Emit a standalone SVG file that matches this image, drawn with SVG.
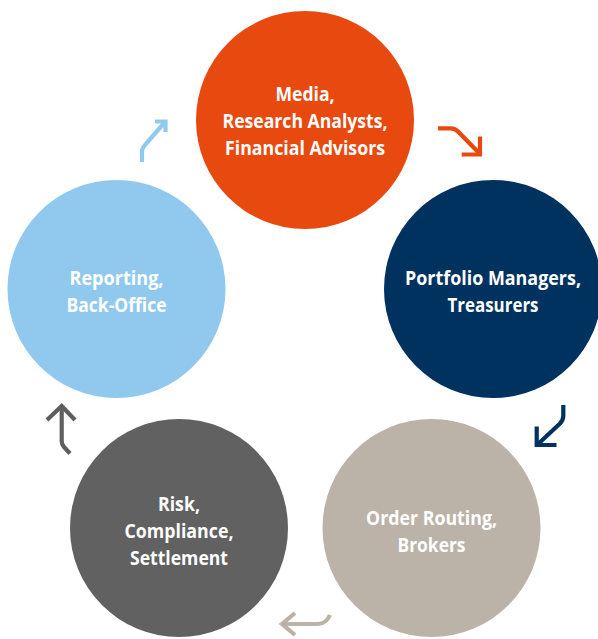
<svg xmlns="http://www.w3.org/2000/svg" width="598" height="639" viewBox="0 0 598 639">
<style>
.lbl{font-family:"Open Sans","Noto Sans","Liberation Sans",sans-serif;font-weight:700;font-size:19.5px;fill:#ffffff;text-anchor:middle}
.arr{fill:none;stroke-width:4.2;stroke-linecap:butt;stroke-linejoin:miter}
</style>
<rect width="598" height="639" fill="#ffffff"/>
<g id="node-media">
<circle cx="305" cy="120" r="109" fill="#E8490F"/>
<text class="lbl" x="305" y="100.7" textLength="59" lengthAdjust="spacingAndGlyphs">Media,</text>
<text class="lbl" x="305" y="128.3" textLength="165" lengthAdjust="spacingAndGlyphs">Research Analysts,</text>
<text class="lbl" x="305" y="155" textLength="160" lengthAdjust="spacingAndGlyphs">Financial Advisors</text>
</g>
<g id="node-portfolio">
<circle cx="493" cy="289" r="109" fill="#00325F"/>
<text class="lbl" x="493" y="285" textLength="176" lengthAdjust="spacingAndGlyphs">Portfolio Managers,</text>
<text class="lbl" x="493" y="311.7" textLength="91" lengthAdjust="spacingAndGlyphs">Treasurers</text>
</g>
<g id="node-order">
<circle cx="431.5" cy="528" r="109" fill="#BBB3A7"/>
<text class="lbl" x="431.5" y="525" textLength="131" lengthAdjust="spacingAndGlyphs">Order Routing,</text>
<text class="lbl" x="431.5" y="551.5" textLength="68" lengthAdjust="spacingAndGlyphs">Brokers</text>
</g>
<g id="node-risk">
<circle cx="179" cy="528" r="109" fill="#616161"/>
<text class="lbl" x="179" y="511" textLength="42" lengthAdjust="spacingAndGlyphs">Risk,</text>
<text class="lbl" x="179" y="538" textLength="109" lengthAdjust="spacingAndGlyphs">Compliance,</text>
<text class="lbl" x="179" y="564.5" textLength="98" lengthAdjust="spacingAndGlyphs">Settlement</text>
</g>
<g id="node-reporting">
<circle cx="116.5" cy="289" r="109" fill="#91C9EE"/>
<text class="lbl" x="116.5" y="285" textLength="94" lengthAdjust="spacingAndGlyphs">Reporting,</text>
<text class="lbl" x="116.5" y="311.7" textLength="100" lengthAdjust="spacingAndGlyphs">Back-Office</text>
</g>
<g id="connectors">
<g stroke="#91C9EE" class="arr">
<path class="arr" stroke="#91C9EE" d="M142 162 V152 Q142 148 145 145 L165 122"/>
<path class="arr" stroke="#91C9EE" d="M155 121.5 H165.5 V132"/>
</g>
<path class="arr" stroke="#E8490F" d="M438 128.3 H451 Q455 128.3 458 131.5 L480 154"/>
<path class="arr" stroke="#E8490F" d="M461.7 154.5 H480 V136.5"/>
<path class="arr" stroke="#00325F" d="M563.3 405 V416 Q563.3 420 560 423.5 L537 445"/>
<path class="arr" stroke="#00325F" d="M536.7 426.5 V445 H556.5"/>
<path class="arr" stroke="#BBB3A7" d="M330 615 Q326 624 318 624 H282"/>
<path class="arr" stroke="#BBB3A7" d="M295 613 L282 624 L295 635"/>
<path class="arr" stroke="#5E5E5E" d="M70 453.5 L64 447 Q61.7 444.5 61.7 441 V407"/>
<path class="arr" stroke="#5E5E5E" d="M47 420 L61.7 406 L75 420"/>
</g>
</svg>
